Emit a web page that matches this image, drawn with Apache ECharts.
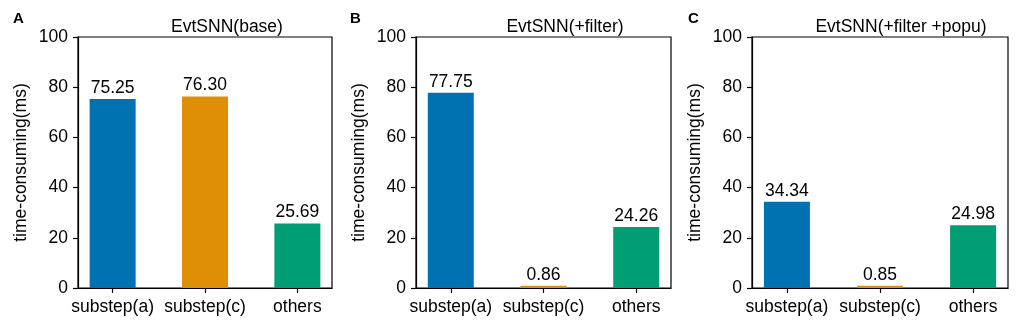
<!DOCTYPE html>
<html>
<head>
<meta charset="utf-8">
<script src="https://cdn.jsdelivr.net/npm/echarts@6/dist/echarts.min.js"></script>
<style>
    html, body { margin: 0; padding: 0; background: #fff; }
    #chart { width: 1021px; height: 331px; }
</style>
</head>
<body>
<div id="chart"></div>
<script>
var categories = ['substep(a)', 'substep(c)', 'others'];
var panelLetters = ['A', 'B', 'C'];
var panelTitles = ['EvtSNN(base)', 'EvtSNN(+filter)', 'EvtSNN(+filter +popu)'];
var baseValues = [75.25, 76.30, 25.69];
var filterValues = [77.75, 0.86, 24.26];
var popuValues = [34.34, 0.85, 24.98];
var yTicks = [0, 20, 40, 60, 80, 100];
var barColors = ['#0072B2', '#DE8F05', '#029E73'];

var allValues = [baseValues, filterValues, popuValues];
var gridLefts = [78, 416, 752];
var gridWidths = [254, 255, 256];
var titleCenters = [222, 560, 896];
var letterLefts = [8, 345, 683];

var font = 'Liberation Sans, Arial, sans-serif';
var myChart = echarts.init(document.getElementById('chart'));

var option = {
    backgroundColor: '#fff',
    animation: false,
    textStyle: { fontFamily: font },
    title: [],
    grid: [],
    xAxis: [],
    yAxis: [],
    series: []
};

for (var i = 0; i < 3; i++) {
    option.title.push({
        text: panelTitles[i],
        left: titleCenters[i],
        top: 13,
        textAlign: 'center',
        textStyle: { fontFamily: font, fontSize: 17.5, fontWeight: 'normal', color: '#000' }
    });
    option.title.push({
        text: panelLetters[i],
        left: letterLefts[i],
        top: 6,
        textStyle: { fontFamily: font, fontSize: 15, fontWeight: 'bold', color: '#000' }
    });
    option.grid.push({
        left: gridLefts[i],
        width: gridWidths[i],
        top: 37,
        bottom: 43,
        show: true,
        borderColor: '#000',
        borderWidth: 1.2
    });
    option.xAxis.push({
        type: 'value',
        gridIndex: i,
        min: -0.375,
        max: 2.375,
        splitLine: { show: false },
        axisLine: { show: true, onZero: false, lineStyle: { color: '#000', width: 1.2 } },
        axisTick: { show: true, customValues: [0, 1, 2], length: 5, lineStyle: { color: '#000', width: 1.2 } },
        axisLabel: {
            customValues: [0, 1, 2],
            formatter: function (v) { return categories[Math.round(v)]; },
            fontFamily: font,
            fontSize: 17.5,
            color: '#000',
            margin: 10
        }
    });
    option.yAxis.push({
        type: 'value',
        gridIndex: i,
        min: yTicks[0],
        max: yTicks[yTicks.length - 1],
        interval: 20,
        name: 'time-consuming(ms)',
        nameLocation: 'middle',
        nameGap: 48,
        nameTextStyle: { fontFamily: font, fontSize: 17.5, color: '#000' },
        splitLine: { show: false },
        axisLine: { show: true, onZero: false, lineStyle: { color: '#000', width: 1.2 } },
        axisTick: { show: true, length: 5, lineStyle: { color: '#000', width: 1.2 } },
        axisLabel: { fontFamily: font, fontSize: 17.5, color: '#000', margin: 10 }
    });
    var data = allValues[i].map(function (v, k) {
        return { value: [k, v], itemStyle: { color: barColors[k] } };
    });
    option.series.push({
        type: 'bar',
        xAxisIndex: i,
        yAxisIndex: i,
        barWidth: 46,
        data: data,
        label: {
            show: true,
            position: 'top',
            distance: 2,
            fontFamily: font,
            fontSize: 17.5,
            color: '#000',
            formatter: function (p) { return p.value[1].toFixed(2); }
        }
    });
}

myChart.setOption(option);
window.addEventListener('resize', function () {
    myChart.resize();
});
</script>
</body>
</html>
